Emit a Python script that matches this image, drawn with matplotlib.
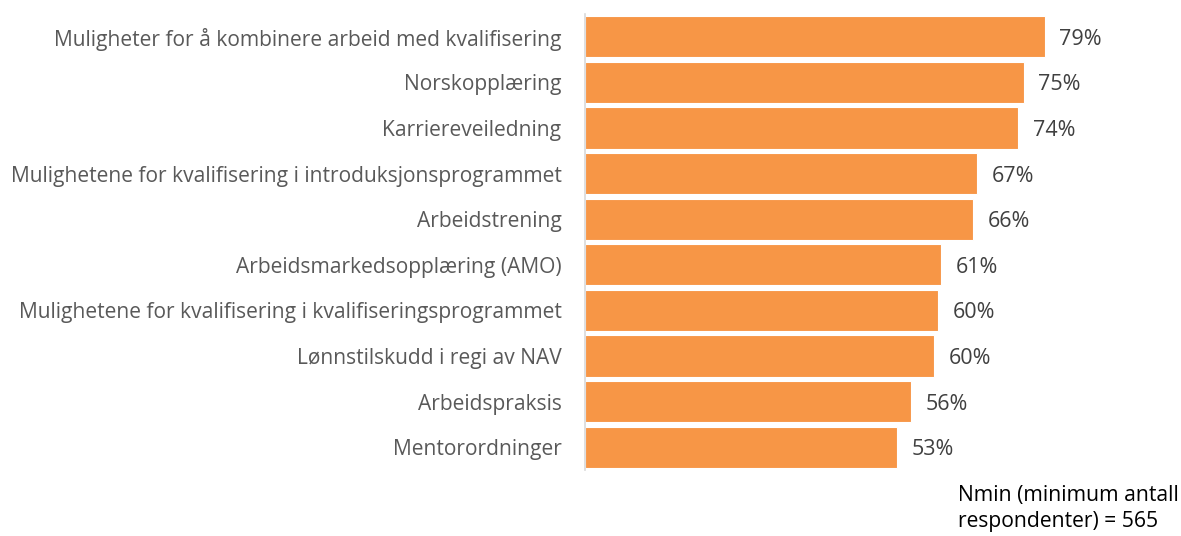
import matplotlib
matplotlib.use('Agg')
import matplotlib.pyplot as plt

categories = [
    'Muligheter for å kombinere arbeid med kvalifisering',
    'Norskopplæring',
    'Karriereveiledning',
    'Mulighetene for kvalifisering i introduksjonsprogrammet',
    'Arbeidstrening',
    'Arbeidsmarkedsopplæring (AMO)',
    'Mulighetene for kvalifisering i kvalifiseringsprogrammet',
    'Lønnstilskudd i regi av NAV',
    'Arbeidspraksis',
    'Mentorordninger',
]
values = [78.6, 75.0, 74.0, 67.0, 66.3, 60.9, 60.3, 59.7, 55.7, 53.4]
note = 'Nmin (minimum antall\nrespondenter) = 565'

plt.rcParams['font.family'] = ['Open Sans', 'DejaVu Sans']

fig = plt.figure(figsize=(11.81, 5.36), dpi=100)
ax = fig.add_axes([585/1181, 1-470/536, 585/1181, 456/536])

ypos = list(range(len(categories)))[::-1]
ax.barh(ypos, values, height=0.9, color='#F79646', edgecolor='white', linewidth=0.8)
for y, v in zip(ypos, values):
    ax.text(v + 2.5, y, '%d%%' % round(v), va='center_baseline', ha='left',
            fontsize=15.5, color='#404040')

ax.set_xlim(0, 100)
ax.set_ylim(-0.5, len(categories) - 0.5)
ax.set_yticks(ypos)
ax.set_yticklabels(categories, fontsize=15.1, color='#595959')
ax.tick_params(axis='y', length=0, pad=17)
ax.set_xticks([])
for s in ['top', 'right', 'bottom']:
    ax.spines[s].set_visible(False)
ax.spines['left'].set_color('#D9D9D9')
ax.spines['left'].set_linewidth(1.2)

fig.text(958/1181, 1-532/536, note, ha='left', va='bottom', fontsize=15.2,
         color='black', linespacing=1.3)

fig.savefig('out.png', dpi=100)
